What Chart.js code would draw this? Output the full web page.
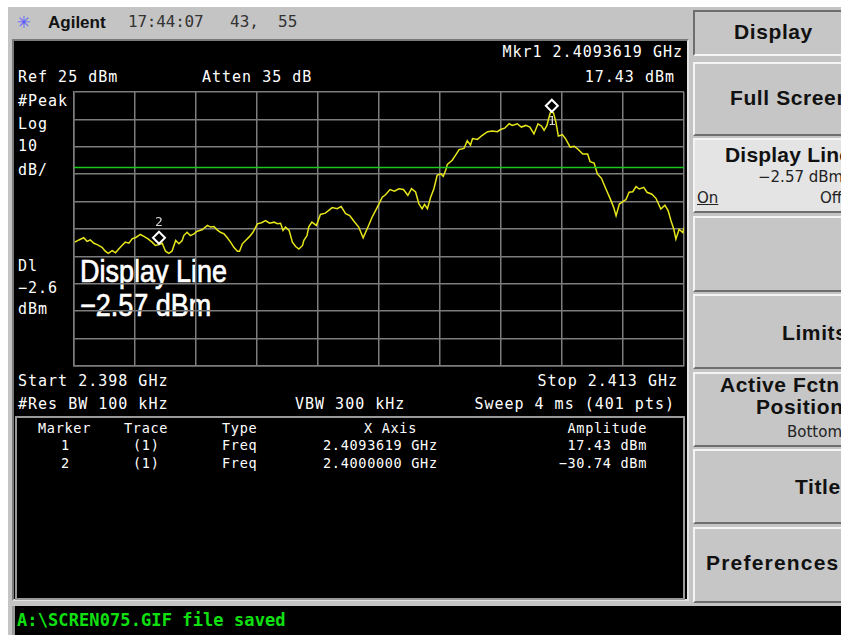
<!DOCTYPE html>
<html>
<head>
<meta charset="utf-8">
<script src="https://cdn.jsdelivr.net/npm/chart.js@4.4.0/dist/chart.umd.min.js"></script>
<style>
body{margin:0;width:841px;height:635px;overflow:hidden;background:#fff;position:relative;font-family:"DejaVu Sans Mono",monospace}
.a{position:absolute;white-space:nowrap}
#frame{left:8px;top:7px;width:833px;height:628px;background:#c4c4c4}
#screen{left:12px;top:39px;width:673px;height:558px;background:#000;border:2px solid;border-color:#7a7a7a #e2e2e2 #e2e2e2 #7a7a7a}
#mbox{left:15px;top:416px;width:666px;height:180px;border:2px solid #9a9a9a}
#status{left:12px;top:606px;width:829px;height:29px;background:#000;border-left:3px solid #9a9a9a;box-sizing:border-box}
.t{color:#fff;font-size:15px;letter-spacing:1px;line-height:16px}
.s{color:#fff;font-size:13.5px;letter-spacing:0.7px;line-height:14px}
.big{color:#fff;font-family:"Liberation Sans",sans-serif;font-size:31px;line-height:32px;transform:scaleX(0.87);transform-origin:left center;-webkit-text-stroke:0.7px #fff}
.key{left:693px;width:160px;background:#c6c6c6;border:2px solid;border-color:#f4f4f4 #6e6e6e #6e6e6e #f4f4f4;box-sizing:border-box}
.k{font-family:"Liberation Sans",sans-serif;font-weight:bold;font-size:21px;letter-spacing:0.6px;color:#111;line-height:22px}
.kr{font-family:"DejaVu Sans",sans-serif;font-size:15px;color:#222;line-height:16px}
#chart{position:absolute;left:73px;top:91px}
</style>
</head>
<body>
<div class="a" id="frame"></div>
<div class="a" style="left:17px;top:9px;font-size:22px;color:#5a5aff;line-height:24px">✳</div>
<div class="a" style="left:48px;top:13px;font-family:'Liberation Sans',sans-serif;font-weight:bold;font-size:17px;color:#111">Agilent</div>
<div class="a" style="left:128px;top:12px;font-size:16px;color:#333;letter-spacing:-0.2px">17:44:07</div>
<div class="a" style="left:230px;top:12px;font-size:16px;color:#333">43,</div>
<div class="a" style="left:278px;top:12px;font-size:16px;color:#333">55</div>

<div class="a" id="screen"></div>
<div class="a" id="mbox"></div>

<div class="a t" style="right:158px;top:44px">Mkr1 2.4093619 GHz</div>
<div class="a t" style="right:166px;top:69px">17.43 dBm</div>
<div class="a t" style="left:18px;top:69px">Ref 25 dBm</div>
<div class="a t" style="left:202px;top:69px">Atten 35 dB</div>
<div class="a t" style="left:18px;top:93px">#Peak</div>
<div class="a t" style="left:18px;top:116px">Log</div>
<div class="a t" style="left:18px;top:138px">10</div>
<div class="a t" style="left:18px;top:162px">dB/</div>
<div class="a t" style="left:18px;top:258px">Dl</div>
<div class="a t" style="left:18px;top:280px">−2.6</div>
<div class="a t" style="left:18px;top:301px">dBm</div>
<div class="a big" style="left:80px;top:256px">Display Line</div>
<div class="a big" style="left:80px;top:290px">−2.57 dBm</div>
<div class="a t" style="left:18px;top:373px">Start 2.398 GHz</div>
<div class="a t" style="right:163px;top:373px">Stop 2.413 GHz</div>
<div class="a t" style="left:18px;top:396px">#Res BW 100 kHz</div>
<div class="a t" style="left:295px;top:396px">VBW 300 kHz</div>
<div class="a t" style="right:166px;top:396px">Sweep 4 ms (401 pts)</div>

<div class="a s" style="left:38px;top:421px">Marker</div>
<div class="a s" style="left:124px;top:421px">Trace</div>
<div class="a s" style="left:222px;top:421px">Type</div>
<div class="a s" style="right:424px;top:421px">X Axis</div>
<div class="a s" style="right:194px;top:421px">Amplitude</div>
<div class="a s" style="left:61px;top:438px">1</div>
<div class="a s" style="left:133px;top:438px">(1)</div>
<div class="a s" style="left:222px;top:438px">Freq</div>
<div class="a s" style="left:323px;top:438px">2.4093619 GHz</div>
<div class="a s" style="right:194px;top:438px">17.43 dBm</div>
<div class="a s" style="left:61px;top:456px">2</div>
<div class="a s" style="left:133px;top:456px">(1)</div>
<div class="a s" style="left:222px;top:456px">Freq</div>
<div class="a s" style="left:323px;top:456px">2.4000000 GHz</div>
<div class="a s" style="right:194px;top:456px">−30.74 dBm</div>

<div class="a key" style="top:10px;height:46px;border-color:#6e6e6e #f4f4f4 #f4f4f4 #6e6e6e"></div>
<div class="a key" style="top:62px;height:74px"></div>
<div class="a key" style="top:138px;height:75px;background:#e4e4e4"></div>
<div class="a key" style="top:216px;height:76px"></div>
<div class="a key" style="top:294px;height:75px"></div>
<div class="a key" style="top:372px;height:75px"></div>
<div class="a key" style="top:449px;height:75px"></div>
<div class="a key" style="top:527px;height:76px"></div>
<div class="a" style="left:692px;top:607px;width:149px;height:28px;background:#000"></div>

<div class="a k" style="left:734px;top:21px">Display</div>
<div class="a k" style="left:730px;top:87px">Full Screen</div>
<div class="a k" style="left:725px;top:144px;letter-spacing:0.2px">Display Line</div>
<div class="a kr" style="left:758px;top:169px">−2.57 dBm</div>
<div class="a kr" style="left:697px;top:190px;text-decoration:underline">On</div>
<div class="a kr" style="left:820px;top:190px">Off</div>
<div class="a k" style="left:782px;top:322px">Limits</div>
<div class="a k" style="left:720px;top:374px">Active Fctn</div>
<div class="a k" style="left:756px;top:396px">Position</div>
<div class="a kr" style="left:787px;top:424px">Bottom</div>
<div class="a k" style="left:795px;top:476px">Title</div>
<div class="a k" style="left:706px;top:552px;letter-spacing:1.2px">Preferences</div>

<div class="a" id="status"></div>
<div class="a" style="left:17px;top:610px;font-weight:bold;font-size:17px;color:#10e010;letter-spacing:0.1px">A:\SCREN075.GIF file saved</div>

<canvas id="chart" width="612" height="276"></canvas>

<script>
// sweep settings
const startMHz = 2398;
const stopMHz = 2413;
const refLevel = 25;
const bottomLevel = -75;
const displayLineDbm = -2.57;

// trace 1 (MHz, dBm)
const freqMHz = [
  2398.02, 2398.12, 2398.24, 2398.32, 2398.40, 2398.49, 2398.57, 2398.69, 2398.77, 2398.84,
  2398.94, 2399.02, 2399.10, 2399.18, 2399.26, 2399.35, 2399.43, 2399.53, 2399.63, 2399.72,
  2399.82, 2399.92, 2400.00, 2400.09, 2400.17, 2400.25, 2400.33, 2400.41, 2400.50, 2400.58,
  2400.66, 2400.70, 2400.78, 2400.86, 2400.95, 2401.03, 2401.15, 2401.28, 2401.36, 2401.44,
  2401.52, 2401.60, 2401.69, 2401.77, 2401.85, 2401.93, 2402.02, 2402.07, 2402.14, 2402.22,
  2402.32, 2402.40, 2402.51, 2402.61, 2402.71, 2402.81, 2402.92, 2403.00, 2403.08, 2403.14,
  2403.20, 2403.29, 2403.37, 2403.45, 2403.53, 2403.62, 2403.65, 2403.73, 2403.77, 2403.85,
  2403.96, 2404.06, 2404.18, 2404.35, 2404.47, 2404.57, 2404.68, 2404.78, 2404.88, 2405.00,
  2405.11, 2405.21, 2405.33, 2405.46, 2405.58, 2405.66, 2405.77, 2405.88, 2405.99, 2406.10,
  2406.21, 2406.30, 2406.40, 2406.48, 2406.56, 2406.62, 2406.69, 2406.77, 2406.85, 2406.93,
  2407.02, 2407.08, 2407.14, 2407.18, 2407.30, 2407.38, 2407.47, 2407.59, 2407.67, 2407.75,
  2407.80, 2407.92, 2408.04, 2408.17, 2408.29, 2408.41, 2408.49, 2408.59, 2408.70, 2408.78,
  2408.90, 2409.00, 2409.11, 2409.21, 2409.31, 2409.41, 2409.50, 2409.56, 2409.63, 2409.68,
  2409.72, 2409.79, 2409.85, 2409.91, 2410.01, 2410.09, 2410.20, 2410.30, 2410.40, 2410.51,
  2410.63, 2410.69, 2410.79, 2410.87, 2410.97, 2411.08, 2411.19, 2411.27, 2411.33, 2411.41,
  2411.52, 2411.57, 2411.65, 2411.74, 2411.82, 2411.90, 2412.01, 2412.09, 2412.21, 2412.31,
  2412.43, 2412.53, 2412.61, 2412.68, 2412.75, 2412.80, 2412.88, 2412.97, 2413.00
];
const ampDbm = [
  -29.8, -29.0, -28.2, -29.5, -29.0, -30.2, -30.7, -31.7, -33.1, -33.9,
  -32.9, -33.7, -32.3, -31.0, -29.8, -30.2, -28.6, -28.0, -27.0, -27.7,
  -28.6, -29.8, -31.0, -30.7, -30.2, -33.1, -33.9, -33.1, -29.2, -30.4,
  -29.2, -27.4, -26.2, -27.4, -26.8, -25.8, -25.3, -23.7, -24.3, -24.1,
  -25.3, -26.2, -26.8, -28.2, -29.8, -31.7, -33.1, -33.1, -30.4, -29.2,
  -27.7, -26.2, -23.1, -22.7, -21.9, -22.9, -22.5, -23.1, -22.9, -25.5,
  -24.3, -25.5, -29.8, -31.4, -32.3, -31.0, -29.2, -27.4, -24.3, -22.5,
  -23.7, -19.7, -19.2, -17.2, -17.6, -16.8, -19.4, -20.1, -22.1, -24.3,
  -28.2, -24.9, -20.7, -17.0, -13.4, -12.5, -10.6, -11.2, -10.3, -10.6,
  -12.7, -10.3, -11.5, -15.8, -17.6, -16.0, -17.6, -13.4, -10.3, -5.4,
  -4.8, -5.8, -3.6, -1.4, 0.1, 1.9, 4.0, 4.4, 7.2, 5.6,
  8.0, 7.7, 9.2, 10.5, 10.8, 10.5, 11.3, 11.8, 13.4, 12.8,
  13.4, 12.2, 12.8, 12.2, 9.7, 13.4, 12.5, 11.0, 12.8, 15.8,
  17.7, 17.4, 14.0, 8.9, 9.4, 7.9, 4.9, 5.2, 4.0, 2.4,
  2.4, -0.4, -0.9, -4.9, -6.5, -10.4, -14.1, -17.1, -20.2, -15.9,
  -14.7, -14.3, -11.6, -11.4, -9.5, -10.4, -9.8, -11.6, -12.3, -13.8,
  -17.7, -16.3, -18.3, -22.0, -25.1, -28.7, -25.1, -26.3, -24.5
];

// markers as placed on the trace
const markerNames = ['1', '2'];
const markerMHz = [2409.75, 2400.09];
const markerDbm = [17.43, -30.74];

const gridColor = '#7c7c7c';

const markerPlugin = {
  id: 'markers',
  afterDatasetsDraw(chart) {
    const c = chart.ctx;
    const xs = chart.scales.x, ys = chart.scales.y;
    c.save();
    markerNames.forEach((name, i) => {
      const px = xs.getPixelForValue(markerMHz[i]);
      const py = ys.getPixelForValue(markerDbm[i]) - 7;
      c.beginPath();
      c.moveTo(px, py - 6);
      c.lineTo(px + 6, py);
      c.lineTo(px, py + 6);
      c.lineTo(px - 6, py);
      c.closePath();
      c.fillStyle = '#000';
      c.fill();
      c.strokeStyle = '#fff';
      c.lineWidth = 2;
      c.stroke();
      c.fillStyle = '#d8d8d8';
      c.font = '13px "DejaVu Sans Mono"';
      c.textAlign = 'center';
      c.textBaseline = 'middle';
      // peak marker label sits under the diamond, the other one above
      c.fillText(name, px, i === 0 ? py + 16 : py - 15);
    });
    c.restore();
  }
};

const trace = freqMHz.map((f, i) => ({ x: f, y: ampDbm[i] }));

new Chart(document.getElementById('chart'), {
  type: 'line',
  data: {
    datasets: [
      {
        data: [{ x: startMHz, y: displayLineDbm }, { x: stopMHz, y: displayLineDbm }],
        borderColor: '#1cc81c',
        borderWidth: 1.5,
        pointRadius: 0
      },
      {
        data: trace,
        borderColor: '#e6e61a',
        borderWidth: 1.5,
        pointRadius: 0,
        tension: 0
      }
    ]
  },
  options: {
    responsive: false,
    animation: false,
    layout: { padding: 1 },
    plugins: { legend: { display: false }, tooltip: { enabled: false } },
    scales: {
      x: {
        type: 'linear',
        min: startMHz,
        max: stopMHz,
        ticks: { display: false, stepSize: 1.5, autoSkip: false },
        grid: { color: gridColor, lineWidth: 1.5, drawTicks: false },
        border: { color: gridColor, width: 1.5 }
      },
      y: {
        type: 'linear',
        min: bottomLevel,
        max: refLevel,
        ticks: { display: false, stepSize: 10, autoSkip: false },
        grid: { color: gridColor, lineWidth: 1.5, drawTicks: false },
        border: { color: gridColor, width: 1.5 }
      }
    }
  },
  plugins: [markerPlugin]
});
</script>
</body>
</html>
